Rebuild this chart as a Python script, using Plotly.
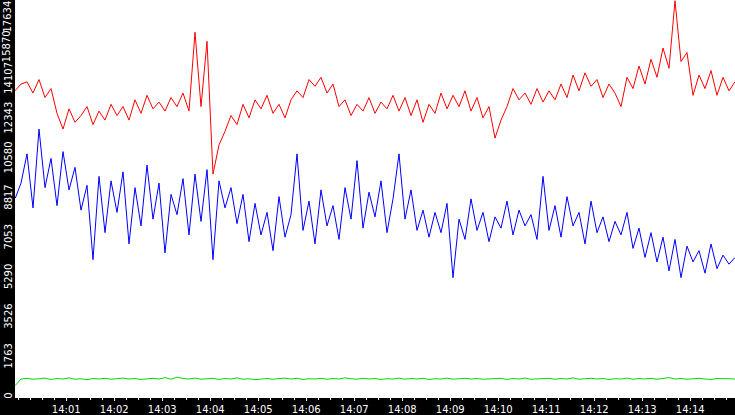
import pandas as pd
import plotly.graph_objects as go

red = [13600, 13900, 14000, 13500, 14100, 13300, 13700, 12600, 11900, 12800,
       12200, 12500, 12900, 12100, 12700, 12300, 13000, 12500, 12900, 12300,
       13200, 12600, 13400, 12800, 13100, 12700, 13300, 12900, 13500, 12700,
       16200, 12900, 15800, 9900, 11200, 11800, 12500, 12100, 13000, 12400,
       13200, 12800, 13400, 12600, 13000, 12400, 13200, 13600, 13300, 14100,
       13800, 14200, 13500, 13900, 12900, 13200, 12500, 13000, 12700, 13300,
       12600, 13100, 12800, 13400, 12700, 13300, 12500, 13200, 12200, 13000,
       12600, 13500, 12800, 13400, 12900, 13600, 12700, 13300, 12400, 12900,
       11500, 12300, 12900, 13700, 13200, 13500, 13000, 13700, 13100, 13600,
       13200, 13900, 13300, 14300, 13600, 14400, 13800, 14100, 13300, 13900,
       13500, 12900, 14200, 13700, 14700, 13900, 15000, 14200, 15500, 14600,
       17600, 14900, 15300, 13400, 14300, 13700, 14500, 13400, 14200, 13600, 14000]

blue = [8800, 9500, 10800, 8400, 11900, 9300, 10600, 8500, 10900, 9200,
        10200, 8300, 9400, 6100, 9800, 7300, 9600, 8200, 10000, 6800,
        9300, 7600, 10300, 7900, 9500, 6400, 9000, 8100, 9700, 7200,
        9900, 7800, 10100, 6100, 9600, 8400, 9300, 7700, 9000, 6900,
        8600, 7200, 8200, 6500, 8900, 7100, 8100, 10800, 7400, 8700,
        6800, 9200, 7600, 8500, 7000, 9300, 7900, 10500, 7500, 9100,
        8000, 9600, 7300, 8800, 10800, 7900, 9200, 7400, 8300, 7100,
        8200, 7300, 8600, 5300, 7900, 7000, 8800, 7400, 8200, 6900,
        8000, 7500, 8700, 7200, 8300, 7600, 8100, 7000, 9800, 7400,
        8500, 7100, 8900, 7600, 8200, 6800, 8700, 7300, 8000, 6900,
        7800, 7200, 8200, 6600, 7500, 6200, 7300, 6000, 7100, 5600,
        7000, 5300, 6700, 6000, 6500, 5500, 6800, 5700, 6300, 5900, 6200]

green = [500, 800, 830, 790, 810, 840, 780, 820, 800, 850,
         790, 810, 770, 820, 800, 830, 790, 810, 840, 800,
         820, 780, 810, 830, 800, 860, 790, 880, 820, 800,
         840, 790, 810, 830, 780, 820, 800, 850, 790, 810,
         770, 800, 820, 790, 810, 840, 800, 830, 780, 810,
         800, 830, 790, 820, 800, 850, 810, 790, 830, 800,
         820, 780, 810, 800, 840, 790, 820, 800, 830, 780,
         810, 800, 840, 790, 810, 830, 800, 820, 790, 810,
         800, 830, 780, 820, 800, 840, 790, 810, 800, 830,
         790, 820, 800, 850, 790, 810, 830, 800, 820, 780,
         810, 800, 840, 790, 820, 800, 830, 790, 810, 860,
         800, 820, 790, 810, 830, 800, 780, 820, 800, 810, 800]

y_ticks = [0, 1763, 3526, 5290, 7053, 8817, 10580, 12343, 14107, 15870, 17634]
x_labels = ["14:01", "14:02", "14:03", "14:04", "14:05", "14:06", "14:07",
            "14:08", "14:09", "14:10", "14:11", "14:12", "14:13", "14:14"]

t = pd.date_range("2024-01-01 13:59:56", periods=len(red), freq="7500ms")
x_ticks = [pd.Timestamp("2024-01-01 " + s) for s in x_labels]

fig = go.Figure()
fig.add_trace(go.Scatter(x=t, y=red, mode="lines", line=dict(color="#ff0000", width=1)))
fig.add_trace(go.Scatter(x=t, y=blue, mode="lines", line=dict(color="#0000ff", width=1)))
fig.add_trace(go.Scatter(x=t, y=green, mode="lines", line=dict(color="#00dd00", width=1)))

fig.update_layout(
    width=735, height=415, showlegend=False,
    paper_bgcolor="black", plot_bgcolor="white",
    margin=dict(l=15, r=0, t=0, b=18),
    font=dict(family="DejaVu Sans", color="white", size=10),
)
fig.update_xaxes(range=[t[0], t[-1]], tickvals=x_ticks, ticktext=x_labels, automargin=False,
                 ticks="outside", ticklen=3, tickcolor="white", showgrid=False,
                 showline=True, linecolor="white",
                 minor=dict(dtick=15000, ticks="outside", ticklen=2, tickcolor="white"))
# the two top labels are crowded at the edge, so they go in as annotations
fig.update_yaxes(range=[0, 17634], tickvals=y_ticks,
                 ticktext=[str(v) for v in y_ticks[:-2]] + ["", ""],
                 automargin=False, tickangle=-90, ticks="inside", ticklen=4,
                 tickcolor="white", showgrid=False, zeroline=False)
fig.add_annotation(text=str(y_ticks[-1]), textangle=-90, xref="paper", yref="paper",
                   x=0, y=1, xanchor="right", yanchor="top", xshift=-1, yshift=1,
                   showarrow=False, font=dict(color="white", size=10))
fig.add_annotation(text=str(y_ticks[-2]), textangle=-90, xref="paper", yref="y",
                   x=0, y=y_ticks[-2], xanchor="right", yanchor="middle", xshift=-1, yshift=-7,
                   showarrow=False, font=dict(color="white", size=10))

fig.write_html("out.html", post_script="document.body.style.margin='0';",
               config={"displayModeBar": False})
